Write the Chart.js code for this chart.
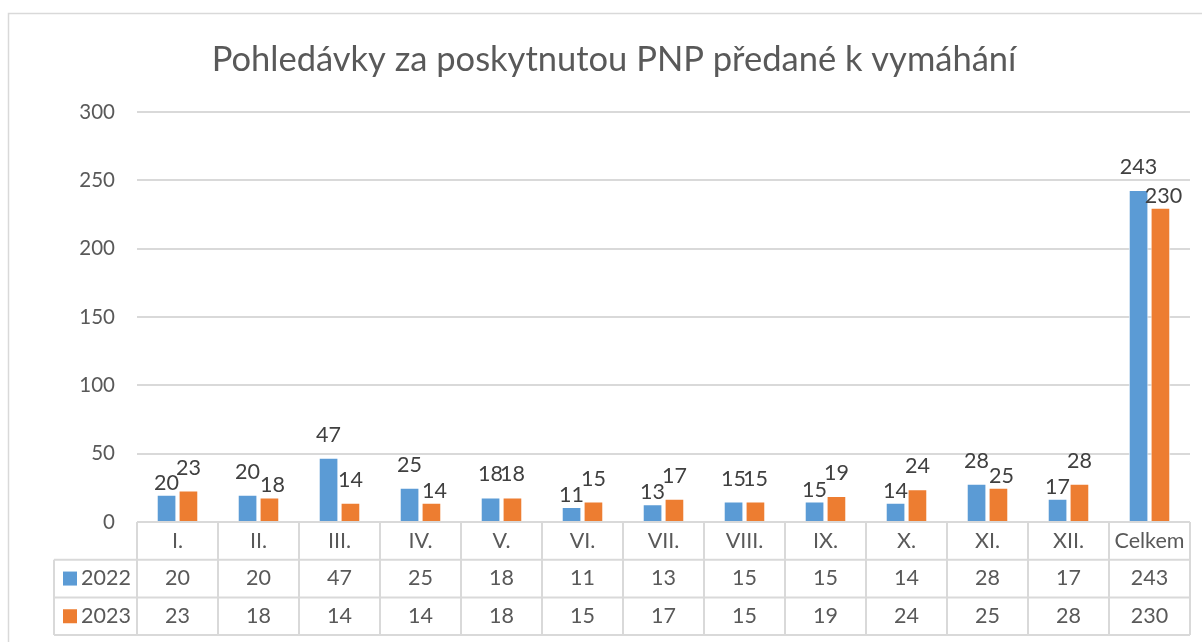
<!DOCTYPE html>
<html>
<head>
<meta charset="utf-8">
<script src="https://cdn.jsdelivr.net/npm/chart.js@4"></script>
<style>
  html, body { margin: 0; padding: 0; background: #fff; }
  #wrap { width: 1202px; height: 642px; }
</style>
</head>
<body>
<div id="wrap"><canvas id="c"></canvas></div>
<script>
// data
const categories = ['I.', 'II.', 'III.', 'IV.', 'V.', 'VI.', 'VII.', 'VIII.', 'IX.', 'X.', 'XI.', 'XII.', 'Celkem'];
const series2022 = [20, 20, 47, 25, 18, 11, 13, 15, 15, 14, 28, 17, 243];
const series2023 = [23, 18, 14, 14, 18, 15, 17, 15, 19, 24, 25, 28, 230];
const seriesNames = ['2022', '2023'];
const yTicks = [0, 50, 100, 150, 200, 250, 300];
const titleText = 'Pohledávky za poskytnutou PNP předané k vymáhání';

const FONT = 'Lato, Carlito, "Noto Sans", sans-serif';
const TEXT = '#595959';
const LABEL = '#404040';
const LINE = '#D9D9D9';
const COLORS = ['#5B9BD5', '#ED7D31'];

// frame + title
const framePlugin = {
    id: 'frame',
    beforeDraw(chart) {
        const ctx = chart.ctx;
        ctx.save();
        ctx.strokeStyle = LINE;
        ctx.lineWidth = 1.5;
        ctx.strokeRect(8.5, 13.5, 1400, 800);
        ctx.fillStyle = TEXT;
        ctx.font = '34.5px ' + FONT;
        ctx.textAlign = 'center';
        ctx.textBaseline = 'middle';
        ctx.fillText(titleText, 614, 60);
        ctx.restore();
    }
};

// value labels above bars; when the two labels of a group would collide,
// the one on the lower bar drops down closer to its bar (like Excel does)
const labelPlugin = {
    id: 'labels',
    afterDatasetsDraw(chart) {
        const ctx = chart.ctx;
        const m0 = chart.getDatasetMeta(0).data;
        const m1 = chart.getDatasetMeta(1).data;
        ctx.save();
        ctx.fillStyle = LABEL;
        ctx.font = '21.5px ' + FONT;
        ctx.textAlign = 'center';
        ctx.textBaseline = 'alphabetic';
        categories.forEach((c, j) => {
            const a = m0[j], b = m1[j];
            let ga = 16, gb = 16, dxa = 0, dxb = 0;
            const diff = Math.abs(a.y - b.y);
            if (diff > 0.5 && diff < 18) {
                if (a.y > b.y) { ga = 5; } else { gb = 5; dxb = 3; }
            }
            ctx.fillText(String(series2022[j]), a.x + dxa, a.y - ga);
            ctx.fillText(String(series2023[j]), b.x + dxb, b.y - gb);
        });
        ctx.restore();
    }
};

// data table under the plot
const tablePlugin = {
    id: 'table',
    afterDraw(chart) {
        const ctx = chart.ctx;
        const x = chart.scales.x;
        const area = chart.chartArea;
        const cw = (area.right - area.left) / categories.length;
        const top = area.bottom;
        const rowH = 37.7;
        const legendLeft = 54;
        ctx.save();
        ctx.strokeStyle = LINE;
        ctx.lineWidth = 2;
        ctx.beginPath();
        ctx.moveTo(area.left, top); ctx.lineTo(area.right, top);
        for (let r = 1; r <= 3; r++) {
            ctx.moveTo(legendLeft, top + r * rowH); ctx.lineTo(area.right, top + r * rowH);
        }
        for (let k = 0; k <= categories.length; k++) {
            const xx = area.left + k * cw;
            ctx.moveTo(xx, top); ctx.lineTo(xx, top + 3 * rowH);
        }
        ctx.moveTo(legendLeft, top + rowH); ctx.lineTo(legendLeft, top + 3 * rowH);
        ctx.stroke();

        ctx.fillStyle = TEXT;
        ctx.font = '21.5px ' + FONT;
        ctx.textAlign = 'center';
        ctx.textBaseline = 'middle';
        categories.forEach((c, k) => {
            const cx = x.getPixelForValue(k);
            ctx.fillText(c, cx, top + rowH * 0.5);
            ctx.fillText(String(series2022[k]), cx, top + rowH * 1.5);
            ctx.fillText(String(series2023[k]), cx, top + rowH * 2.5);
        });
        ctx.textAlign = 'left';
        seriesNames.forEach((n, i) => {
            const cy = top + rowH * (1.5 + i);
            ctx.fillStyle = COLORS[i];
            ctx.fillRect(63, cy - 7, 14, 14);
            ctx.fillStyle = TEXT;
            ctx.fillText(n, 81, cy);
        });
        ctx.restore();
    }
};

new Chart(document.getElementById('c'), {
    type: 'bar',
    data: {
        labels: categories,
        datasets: [
            { label: seriesNames[0], data: series2022, backgroundColor: COLORS[0], borderColor: '#fff', borderWidth: 1 },
            { label: seriesNames[1], data: series2023, backgroundColor: COLORS[1], borderColor: '#fff', borderWidth: 1 }
        ]
    },
    options: {
        responsive: true,
        maintainAspectRatio: false,
        animation: false,
        layout: { padding: { top: 112, bottom: 120, left: 0, right: 12 } },
        datasets: { bar: { categoryPercentage: 0.54, barPercentage: 0.9 } },
        plugins: { legend: { display: false }, title: { display: false }, tooltip: { enabled: false } },
        scales: {
            x: { display: false },
            y: {
                min: 0, max: 300,
                afterFit: (s) => { s.width = 137; },
                afterBuildTicks: (s) => { s.ticks = yTicks.map(v => ({ value: v })); },
                ticks: { color: TEXT, font: { family: FONT, size: 20.5 }, padding: 22 },
                grid: { color: LINE, lineWidth: 2, drawTicks: false },
                border: { display: false }
            }
        }
    },
    plugins: [framePlugin, labelPlugin, tablePlugin]
});
</script>
</body>
</html>
